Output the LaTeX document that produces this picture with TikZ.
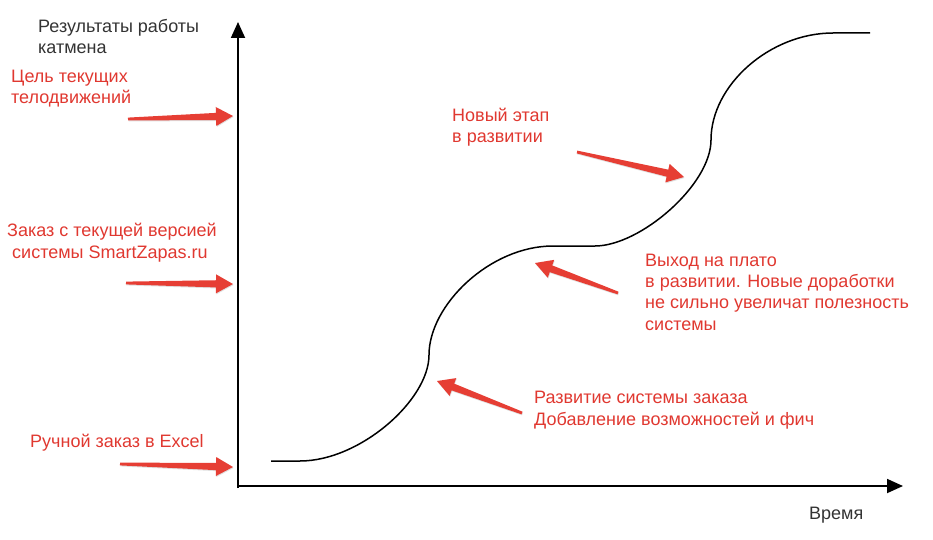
\documentclass[tikz,border=0pt]{standalone}
\usepackage{fontspec}
\setmainfont{Liberation Sans}
\usepackage{tikz}
\usetikzlibrary{arrows.meta,calc,shadows}
\definecolor{textred}{RGB}{224,56,48}
\definecolor{arrowred}{RGB}{230,62,52}
\definecolor{darktext}{RGB}{51,51,51}

% tapered red pointer from #1 (tail) to #2 (tip)
\newcommand{\redarrow}[2]{%
  \coordinate (hb) at ($(#2)!17pt!(#1)$);
  \fill[arrowred,drop shadow={opacity=.25,shadow xshift=.5pt,shadow yshift=-1pt}]
    ($(#1)!1.4pt!90:(#2)$) -- ($(hb)!3.6pt!90:(#2)$) -- ($(hb)!9.5pt!90:(#2)$) -- (#2)
    -- ($(hb)!9.5pt!-90:(#2)$) -- ($(hb)!3.6pt!-90:(#2)$) -- ($(#1)!1.4pt!-90:(#2)$) -- cycle;}

\begin{document}
\begin{tikzpicture}[x=1pt,y=-1pt,
    lbl/.style={font=\fontsize{18}{21.3}\selectfont,text=textred,align=left,inner sep=0pt,anchor=base west},
    axlbl/.style={lbl,text=darktext},
    axis/.style={line width=1.8pt,-{Triangle[length=16pt,width=14pt]}}]
\useasboundingbox (0,0) rectangle (933,540);

% axes
\coordinate (ybot) at (238,488);
\coordinate (O) at (238,486);
\coordinate (ytop) at (238,22);
\coordinate (xend) at (903,486);
\draw[axis] (ybot) -- (ytop);
\draw[axis] (O) -- (xend);
% (multi-line nodes: base = last line)
\node[axlbl] at (38,54) (ylabel) {Результаты работы\\катмена};
\node[axlbl] at (809,519) (xlabel) {Время};

% growth curve
\draw[line width=1.5pt] (271,461) -- (300,461)
    .. controls (360,461) and (429,400) .. (429,355)
    .. controls (429,305) and (490,246) .. (553,246) -- (595,246)
    .. controls (640,246) and (711,185) .. (711,140)
    .. controls (711,85) and (770,33) .. (833,33) -- (870,33);

% labels
\node[lbl] at (11,104) (goal) {Цель текущих\\телодвижений};
\node[lbl] at (7,258) (order) {Заказ с текущей версией\\\ системы SmartZapas.ru};
\node[lbl] at (30,447) (manual) {Ручной заказ в Excel};
\node[lbl] at (452,143) (stage) {Новый этап\\в развитии};
\begin{scope}
\clip (0,0) rectangle (908,540);
\node[lbl] at (645,330) (plateau) {Выход на плато\\в развитии. Новые доработки\\не сильно увеличат полезность\\системы};
\end{scope}
\node[lbl] at (534,425) (growth) {Развитие системы заказа\\Добавление возможностей и фич};

% pointers
\coordinate (goal tail) at (128,119);   \coordinate (goal tip) at (233,116);
\coordinate (order tail) at (126,283);  \coordinate (order tip) at (233,284);
\coordinate (manual tail) at (120,464); \coordinate (manual tip) at (233,467);
\coordinate (stage tail) at (577,152);  \coordinate (stage tip) at (684,177);
\coordinate (plateau tail) at (618,293); \coordinate (plateau tip) at (535,263);
\coordinate (growth tail) at (522,413); \coordinate (growth tip) at (437,381);
\foreach \p in {goal,order,manual,stage,plateau,growth}
  \redarrow{\p\space tail}{\p\space tip};
\end{tikzpicture}
\end{document}
